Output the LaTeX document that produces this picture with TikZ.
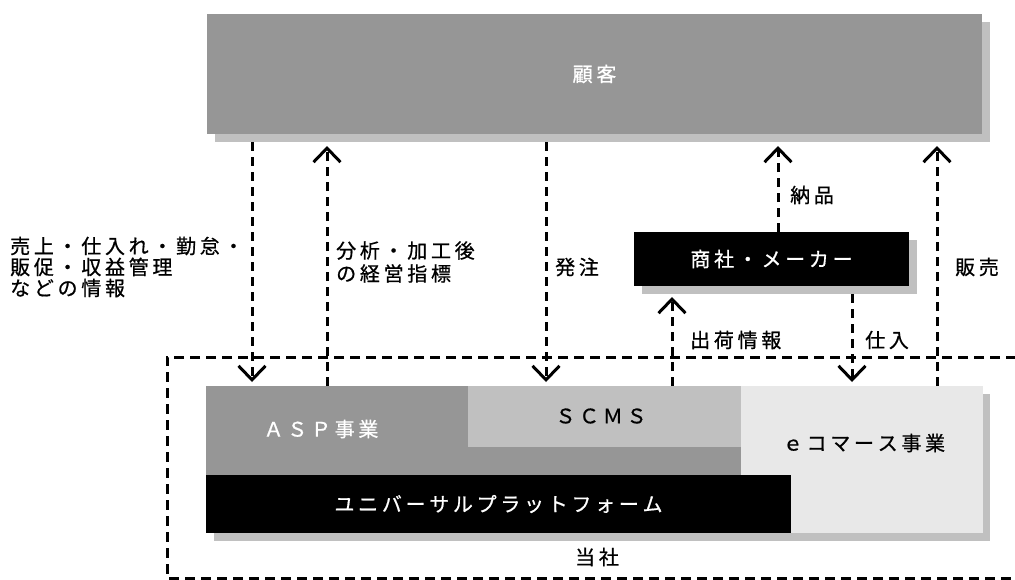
\documentclass[tikz,border=0pt]{standalone}
\usepackage{fontspec}
\newfontfamily\jp{Noto Sans CJK JP}[FakeBold=0.7]
\usetikzlibrary{arrows.meta}
\definecolor{gA}{RGB}{150,150,150}
\definecolor{gS}{RGB}{192,192,192}
\definecolor{gE}{RGB}{232,232,232}
\newdimen\lsk \lsk=3.7pt
\def\ls#1{\lsA#1\lsEnd}
\def\lsA#1#2\lsEnd{#1\ifx\relax#2\relax\else\kern\lsk\lsA#2\lsEnd\fi}
\tikzset{
  jt/.style={font=\jp\fontsize{20}{21}\selectfont, inner sep=0pt},
  fbox/.style={draw=none, inner sep=0pt, outer sep=0pt, anchor=north west},
  arr/.style={line width=3pt, dash pattern=on 9pt off 6pt, -{Straight Barb[length=14pt,width=27pt]}},
  border/.style={line width=3pt, dash pattern=on 10pt off 6pt},
}
\begin{document}
\begin{tikzpicture}[x=1pt,y=-1pt]
\useasboundingbox (0,0) rectangle (1015,579);
% customer
\node[fbox, fill=gS, minimum width=775pt, minimum height=120pt] (kshadow) at (215,22) {};
\node[fbox, fill=gA, minimum width=775pt, minimum height=120pt] (kokyaku) at (207,14) {};
\node[jt, text=white] (kokyakutext) at (kokyaku.center) {\ls{顧客}};
% trading company
\node[fbox, fill=gS, minimum width=275pt, minimum height=54pt] (sshadow) at (642,240) {};
\node[fbox, fill=black, minimum width=275pt, minimum height=54pt] (shosha) at (634,232) {};
\node[jt, text=white] (shoshatext) at (shosha.center) {\ls{商社・メーカー}};
% company block
\node[fbox, fill=gS, minimum width=776pt, minimum height=147pt] (bshadow) at (214,394) {};
\node[fbox, fill=gA, minimum width=535pt, minimum height=89pt] (asp) at (206,386) {};
\node[fbox, fill=gS, minimum width=273pt, minimum height=61pt] (scms) at (468,386) {};
\node[fbox, fill=gE, minimum width=242pt, minimum height=147pt] (ecom) at (741,386) {};
\node[fbox, fill=black, minimum width=585pt, minimum height=58pt] (univ) at (206,475) {};
\node[jt, text=white] (asptext) at (321,429) {\ls{ＡＳＰ事業}};
\node[jt] (scmstext) at (601,416) {\ls{ＳＣＭＳ}};
\node[jt] (ecomtext) at (864,443) {\ls{ｅコマース事業}};
\node[jt, text=white] (univtext) at (univ.center) {\ls{ユニバーサルプラットフォーム}};
\node[jt] (tosha) at (597,557) {\ls{当社}};
% company border
\coordinate (cTL) at (167,357);
\coordinate (cTR) at (1016,357);
\coordinate (cBL) at (167,578);
\coordinate (cBR) at (1016,578);
\draw[border] (cTR) -- (cTL) -- (cBL) -- (cBR);
% arrow columns
\coordinate (x1) at (252,0);
\coordinate (x2) at (327,0);
\coordinate (x3) at (546,0);
\coordinate (x4) at (778,0);
\coordinate (x5) at (937,0);
\coordinate (x6) at (672,0);
\coordinate (x7) at (852,0);
\draw[arr, shorten >=4pt] (kshadow.south -| x1) -- (asp.north -| x1);
\draw[arr, shorten >=4pt] (asp.north -| x2) -- (kshadow.south -| x2);
\draw[arr, shorten >=4pt] (kshadow.south -| x3) -- (scms.north -| x3);
\draw[arr, shorten >=4pt] (shosha.north -| x4) -- (kshadow.south -| x4);
\draw[arr, shorten >=4pt] (ecom.north -| x5) -- (kshadow.south -| x5);
\draw[arr, shorten >=3pt] (scms.north -| x6) -- (sshadow.south -| x6);
\draw[arr, shorten >=4pt] (sshadow.south -| x7) -- (ecom.north -| x7);
% labels
\node[jt, anchor=west, align=left] (lab1) at (10,267) {\ls{売上・仕入れ・勤怠・}\\\ls{販促・収益管理}\\\ls{などの情報}};
\node[jt, anchor=west, align=left, font=\jp\fontsize{20}{23}\selectfont] (lab2) at (336,262) {\ls{分析・加工後}\\\ls{の経営指標}};
\node[jt, anchor=west] (lab3) at (555,267) {\ls{発注}};
\node[jt, anchor=west] (lab4) at (790,195) {\ls{納品}};
\node[jt, anchor=west] (lab5) at (955,267) {\ls{販売}};
\node[jt, anchor=west] (lab6) at (690,340) {\ls{出荷情報}};
\node[jt, anchor=west] (lab7) at (865,340) {\ls{仕入}};
\end{tikzpicture}
\end{document}
